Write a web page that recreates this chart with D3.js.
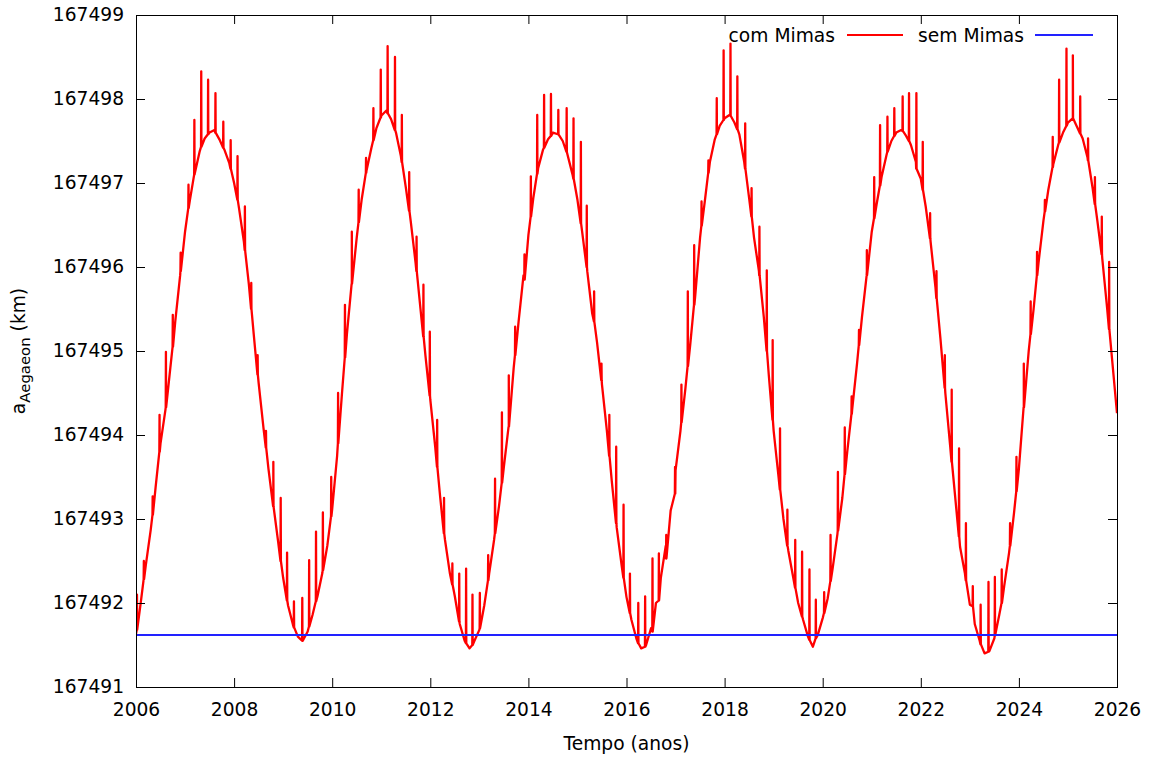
<!DOCTYPE html>
<html>
<head>
<meta charset="utf-8">
<script src="https://cdn.jsdelivr.net/npm/d3@7"></script>
<style>
  body { margin: 0; background: #fff; }
  svg text { font-family: "DejaVu Sans", sans-serif; fill: #000; }
</style>
</head>
<body>
<svg id="chart"></svg>
<script>
// semi-eixo maior de Aegaeon, amostrado a cada 0.1 ano (2006.0 ... 2026.0)
const baseStart = 2006;
const baseStep = 0.1;
const baseValues = [
  167491.63, 167492.02, 167492.45, 167492.87, 167493.38, 167493.90, 167494.30, 167494.80, 167495.35, 167495.90, // 2006
  167496.42, 167496.80, 167497.12, 167497.38, 167497.53, 167497.60, 167497.63, 167497.52, 167497.40, 167497.24, // 2007
  167497.00, 167496.70, 167496.30, 167495.80, 167495.20, 167494.62, 167494.08, 167493.60, 167493.15, 167492.72, // 2008
  167492.30, 167491.97, 167491.74, 167491.60, 167491.55, 167491.66, 167491.86, 167492.08, 167492.36, 167492.68, // 2009
  167493.12, 167493.75, 167494.50, 167495.20, 167495.80, 167496.35, 167496.80, 167497.15, 167497.42, 167497.65, // 2010
  167497.80, 167497.86, 167497.76, 167497.60, 167497.32, 167496.95, 167496.55, 167496.05, 167495.50, 167494.95, // 2011
  167494.42, 167493.86, 167493.27, 167492.75, 167492.35, 167492.08, 167491.75, 167491.55, 167491.46, 167491.55, // 2012
  167491.68, 167491.97, 167492.35, 167492.75, 167493.15, 167493.62, 167494.10, 167494.80, 167495.35, 167495.90, // 2013
  167496.38, 167496.82, 167497.18, 167497.40, 167497.52, 167497.60, 167497.58, 167497.50, 167497.33, 167497.10, // 2014
  167496.80, 167496.40, 167495.95, 167495.45, 167495.10, 167494.60, 167494.05, 167493.45, 167492.90, 167492.45, // 2015
  167492.07, 167491.80, 167491.58, 167491.46, 167491.50, 167491.70, 167492.00, 167492.30, 167492.68, 167493.10, // 2016
  167493.58, 167494.05, 167494.55, 167495.08, 167495.65, 167496.35, 167496.80, 167497.25, 167497.52, 167497.68, // 2017
  167497.77, 167497.81, 167497.72, 167497.58, 167497.25, 167496.82, 167496.35, 167495.95, 167495.40, 167494.72, // 2018
  167494.05, 167493.50, 167493.00, 167492.62, 167492.30, 167492.00, 167491.80, 167491.60, 167491.48, 167491.62, // 2019
  167491.82, 167492.05, 167492.40, 167492.82, 167493.25, 167493.80, 167494.30, 167494.85, 167495.40, 167495.95, // 2020
  167496.42, 167496.75, 167497.07, 167497.33, 167497.50, 167497.60, 167497.63, 167497.56, 167497.45, 167497.25, // 2021
  167497.05, 167496.72, 167496.30, 167495.75, 167495.15, 167494.50, 167493.86, 167493.27, 167492.67, 167492.35, // 2022
  167491.98, 167491.75, 167491.55, 167491.40, 167491.43, 167491.58, 167491.86, 167492.20, 167492.60, 167493.07, // 2023
  167493.60, 167494.33, 167495.00, 167495.50, 167496.05, 167496.55, 167496.92, 167497.22, 167497.45, 167497.60, // 2024
  167497.72, 167497.77, 167497.65, 167497.53, 167497.30, 167496.95, 167496.55, 167496.10, 167495.50, 167494.90, // 2025
  167494.26                                                                                                     // 2026
];

// picos curtos (encontros com Mimas): ano, valor na base, valor no topo
const spikeYears = [
  2006.02, 2006.16, 2006.34, 2006.48, 2006.61, 2006.75, 2006.91, 2007.07, 2007.19, 2007.33,
  2007.47, 2007.62, 2007.78, 2007.93, 2008.07, 2008.22, 2008.35, 2008.48, 2008.65, 2008.80,
  2008.95, 2009.08, 2009.22, 2009.39, 2009.53, 2009.67, 2009.81, 2009.98, 2010.12, 2010.26,
  2010.40, 2010.54, 2010.69, 2010.84, 2010.99, 2011.13, 2011.28, 2011.42, 2011.57, 2011.72,
  2011.86, 2011.99, 2012.14, 2012.28, 2012.45, 2012.59, 2012.73, 2012.86, 2013.01, 2013.18,
  2013.32, 2013.46, 2013.60, 2013.73, 2013.92, 2014.05, 2014.18, 2014.32, 2014.46, 2014.61,
  2014.78, 2014.92, 2015.07, 2015.19, 2015.34, 2015.49, 2015.65, 2015.79, 2015.94, 2016.07,
  2016.24, 2016.38, 2016.53, 2016.66, 2016.81, 2016.99, 2017.12, 2017.25, 2017.38, 2017.53,
  2017.67, 2017.84, 2017.98, 2018.12, 2018.26, 2018.42, 2018.55, 2018.71, 2018.86, 2018.98,
  2019.13, 2019.28, 2019.44, 2019.58, 2019.73, 2019.86, 2020.03, 2020.16, 2020.31, 2020.45,
  2020.59, 2020.74, 2020.90, 2021.05, 2021.17, 2021.32, 2021.46, 2021.63, 2021.76, 2021.91,
  2022.04, 2022.19, 2022.32, 2022.49, 2022.63, 2022.78, 2022.92, 2023.06, 2023.22, 2023.38,
  2023.51, 2023.65, 2023.82, 2023.95, 2024.10, 2024.24, 2024.37, 2024.53, 2024.69, 2024.82,
  2024.97, 2025.10, 2025.25, 2025.41, 2025.55, 2025.69, 2025.84
];
const spikeFeet = [
  167491.68, 167492.28, 167493.05, 167493.80, 167494.33, 167495.05, 167495.95, 167496.70, 167497.10, 167497.43,
  167497.58, 167497.60, 167497.42, 167497.17, 167496.80, 167496.20, 167495.50, 167494.72, 167493.85, 167493.15,
  167492.50, 167492.03, 167491.71, 167491.55, 167491.72, 167492.02, 167492.39, 167493.03, 167493.90, 167494.92,
  167495.80, 167496.53, 167497.12, 167497.51, 167497.78, 167497.83, 167497.63, 167497.25, 167496.67, 167495.95,
  167495.17, 167494.47, 167493.62, 167492.83, 167492.22, 167491.78, 167491.52, 167491.50, 167491.70, 167492.27,
  167492.83, 167493.43, 167494.10, 167494.95, 167495.85, 167496.60, 167497.11, 167497.42, 167497.56, 167497.58,
  167497.37, 167497.05, 167496.52, 167496.00, 167495.35, 167494.65, 167493.75, 167492.95, 167492.30, 167491.88,
  167491.52, 167491.48, 167491.66, 167492.03, 167492.53, 167493.30, 167494.15, 167494.82, 167495.55, 167496.49,
  167497.12, 167497.58, 167497.75, 167497.80, 167497.64, 167497.17, 167496.60, 167495.90, 167495.00, 167494.18,
  167493.35, 167492.68, 167492.18, 167491.84, 167491.56, 167491.58, 167491.88, 167492.26, 167492.86, 167493.53,
  167494.25, 167495.07, 167495.90, 167496.58, 167496.97, 167497.37, 167497.56, 167497.62, 167497.50, 167497.17,
  167496.92, 167496.34, 167495.63, 167494.56, 167493.68, 167492.79, 167492.27, 167491.96, 167491.51, 167491.42,
  167491.61, 167492.00, 167492.68, 167493.33, 167494.33, 167495.20, 167495.90, 167496.66, 167497.19, 167497.48,
  167497.68, 167497.77, 167497.59, 167497.27, 167496.75, 167496.15, 167495.26
];
const spikePeaks = [
  167492.10, 167492.50, 167493.27, 167494.24, 167494.99, 167495.43, 167496.17, 167496.98, 167497.75, 167498.33,
  167498.23, 167498.07, 167497.73, 167497.51, 167497.32, 167496.72, 167495.81, 167494.95, 167494.05, 167493.68,
  167493.25, 167492.60, 167492.02, 167492.06, 167492.51, 167492.85, 167493.08, 167493.50, 167494.50, 167495.55,
  167496.42, 167496.92, 167497.30, 167497.89, 167498.35, 167498.63, 167498.50, 167497.81, 167497.13, 167496.36,
  167495.79, 167495.23, 167494.18, 167493.25, 167492.47, 167492.35, 167492.41, 167492.10, 167492.12, 167492.57,
  167493.48, 167494.27, 167494.71, 167495.29, 167496.15, 167497.08, 167497.81, 167498.05, 167498.06, 167497.87,
  167497.89, 167497.77, 167497.49, 167496.73, 167495.71, 167494.85, 167494.24, 167493.86, 167493.17, 167492.35,
  167492.00, 167492.08, 167492.53, 167492.59, 167492.81, 167493.62, 167494.60, 167495.71, 167496.26, 167496.78,
  167497.27, 167498.01, 167498.58, 167498.66, 167498.27, 167497.71, 167496.94, 167496.48, 167495.96, 167495.13,
  167494.08, 167493.11, 167492.75, 167492.61, 167492.40, 167492.04, 167492.13, 167492.81, 167493.56, 167494.09,
  167494.46, 167495.25, 167496.20, 167497.07, 167497.69, 167497.79, 167497.89, 167498.03, 167498.07, 167498.07,
  167497.49, 167496.64, 167495.95, 167494.95, 167494.54, 167493.84, 167492.95, 167492.20, 167491.98, 167492.25,
  167492.31, 167492.40, 167492.95, 167493.74, 167494.85, 167495.59, 167496.18, 167496.80, 167497.55, 167498.23,
  167498.60, 167498.52, 167498.03, 167497.53, 167497.07, 167496.60, 167496.06
];

// sem Mimas: valor constante
const semMimasYears = [2006, 2026];
const semMimasValues = [167491.62, 167491.62];

// eixos
const xTicks = [2006, 2008, 2010, 2012, 2014, 2016, 2018, 2020, 2022, 2024, 2026];
const yTicks = [167491, 167492, 167493, 167494, 167495, 167496, 167497, 167498, 167499];
const xDomain = [2006, 2026];
const yDomain = [167491, 167499];

const seriesLabels = ['com Mimas', 'sem Mimas'];
const seriesColors = ['#ff0000', '#2222ff'];

// layout
const config = {
  containerWidth: 1153,
  containerHeight: 758,
  margin: { top: 15, right: 36, bottom: 71, left: 136 }
};
const width = config.containerWidth - config.margin.left - config.margin.right;
const height = config.containerHeight - config.margin.top - config.margin.bottom;
const fontSize = 18.67;
const tickLen = 9;

const svg = d3.select('#chart')
    .attr('width', config.containerWidth)
    .attr('height', config.containerHeight);

const chart = svg.append('g')
    .attr('transform', `translate(${config.margin.left},${config.margin.top})`);

const xScale = d3.scaleLinear().domain(xDomain).range([0, width]);
const yScale = d3.scaleLinear().domain(yDomain).range([height, 0]);

// combine base curve and spikes into one ordered trace
const redPoints = baseValues.map((v, i) => [baseStart + i * baseStep, v]);
spikeYears.forEach((t, i) => {
  redPoints.push([t - 0.004, spikeFeet[i]], [t, spikePeaks[i]], [t + 0.004, spikeFeet[i]]);
});
redPoints.sort((a, b) => a[0] - b[0]);

const bluePoints = semMimasYears.map((t, i) => [t, semMimasValues[i]]);

const line = d3.line()
    .x(d => xScale(d[0]))
    .y(d => yScale(d[1]));

chart.append('clipPath').attr('id', 'plot-clip')
  .append('rect').attr('width', width).attr('height', height);

const plot = chart.append('g').attr('clip-path', 'url(#plot-clip)');

plot.append('path')
    .datum(redPoints)
    .attr('fill', 'none')
    .attr('stroke', seriesColors[0])
    .attr('stroke-width', 2.3)
    .attr('stroke-linejoin', 'round')
    .attr('d', line);

plot.append('path')
    .datum(bluePoints)
    .attr('fill', 'none')
    .attr('stroke', seriesColors[1])
    .attr('stroke-width', 2)
    .attr('d', line);

// axes with inward ticks on all four sides
const styleAxis = g => {
  g.select('.domain').remove();
  g.selectAll('.tick line').attr('stroke', '#000').attr('stroke-width', 1);
  g.selectAll('.tick text')
    .style('font-size', `${fontSize}px`)
    .style('font-family', '"DejaVu Sans", sans-serif')
    .attr('fill', '#000');
};

chart.append('g')
    .attr('transform', `translate(0,${height})`)
    .call(d3.axisBottom(xScale).tickValues(xTicks).tickFormat(d3.format('d'))
      .tickSizeInner(-tickLen).tickSizeOuter(0).tickPadding(16))
    .call(styleAxis);

chart.append('g')
    .call(d3.axisTop(xScale).tickValues(xTicks).tickFormat('')
      .tickSizeInner(-tickLen).tickSizeOuter(0))
    .call(styleAxis);

chart.append('g')
    .call(d3.axisLeft(yScale).tickValues(yTicks).tickFormat(d3.format('d'))
      .tickSizeInner(-tickLen).tickSizeOuter(0).tickPadding(12))
    .call(styleAxis);

chart.append('g')
    .attr('transform', `translate(${width},0)`)
    .call(d3.axisRight(yScale).tickValues(yTicks).tickFormat('')
      .tickSizeInner(-tickLen).tickSizeOuter(0))
    .call(styleAxis);

// frame
chart.append('rect')
    .attr('x', 0.5)
    .attr('y', 0.5)
    .attr('width', width)
    .attr('height', height)
    .attr('fill', 'none')
    .attr('stroke', '#000')
    .attr('stroke-width', 1);

// axis titles
svg.append('text')
    .attr('x', config.margin.left + width / 2)
    .attr('y', 750)
    .attr('text-anchor', 'middle')
    .style('font-size', `${fontSize}px`)
    .text('Tempo (anos)');

const yTitle = svg.append('text')
    .attr('transform', `translate(25,${config.margin.top + height / 2}) rotate(-90)`)
    .attr('text-anchor', 'middle')
    .style('font-size', `${fontSize}px`);
yTitle.append('tspan').text('a');
yTitle.append('tspan').attr('dy', 5).style('font-size', '14.9px').text('Aegaeon');
yTitle.append('tspan').attr('dy', -5).text(' (km)');

// legend (top right, inside)
const legendY = 35;
const legendItems = [
  { textEnd: 835, x0: 847, x1: 903 },
  { textEnd: 1024, x0: 1035, x1: 1093 }
];
const legend = svg.append('g');
legendItems.forEach((it, i) => {
  legend.append('text')
      .attr('x', it.textEnd)
      .attr('y', legendY)
      .attr('dy', '0.35em')
      .attr('text-anchor', 'end')
      .style('font-size', `${fontSize}px`)
      .text(seriesLabels[i]);
  legend.append('line')
      .attr('x1', it.x0).attr('x2', it.x1)
      .attr('y1', legendY).attr('y2', legendY)
      .attr('stroke', seriesColors[i])
      .attr('stroke-width', 2);
});
</script>
</body>
</html>
